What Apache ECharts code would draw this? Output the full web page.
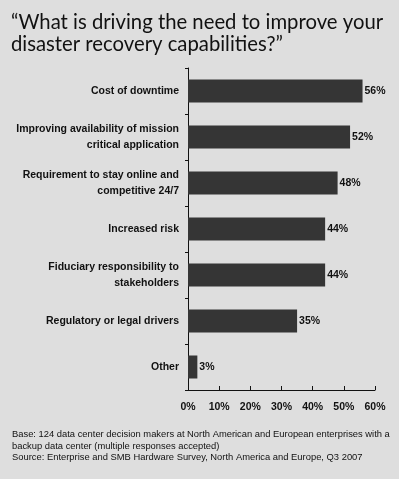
<!DOCTYPE html>
<html><head><meta charset="utf-8">
<script src="https://cdn.jsdelivr.net/npm/echarts@6/dist/echarts.min.js"></script>
<style>html,body{margin:0;padding:0;background:#dedede}#c{width:399px;height:479px}</style>
</head><body><div id="c"></div>
<script>
var categories = [
  "Cost of downtime",
  "Improving availability of mission\ncritical application",
  "Requirement to stay online and\ncompetitive 24/7",
  "Increased risk",
  "Fiduciary responsibility to\nstakeholders",
  "Regulatory or legal drivers",
  "Other"
];
var values = [56, 52, 48, 44, 44, 35, 3];
var titleText = "\u201CWhat is driving the need to improve your\ndisaster recovery capabilities?\u201D";
var noteText = "Base: 124 data center decision makers at North American and European enterprises with a\nbackup data center (multiple responses accepted)\nSource: Enterprise and SMB Hardware Survey, North America and Europe, Q3 2007";

var chart = echarts.init(document.getElementById('c'), null, {renderer:'canvas'});
chart.setOption({
  backgroundColor: '#dedede',
  animation: false,
  title: [{
    text: titleText, left: 6, top: 6,
    textStyle: {fontFamily: 'Lato', fontSize: 20.3, fontWeight: 'normal', color: '#111', lineHeight: 22}
  },{
    text: noteText, left: 7, top: 424,
    textStyle: {fontFamily: 'Liberation Sans', fontSize: 9.4, fontWeight: 'normal', color: '#111', lineHeight: 11.5}
  }],
  grid: {left: 188, right: 24, top: 68, bottom: 89, containLabel: false},
  xAxis: {
    type: 'value', min: 0, max: 60, interval: 10,
    axisLine: {show: true, lineStyle: {color: '#111', width: 1}},
    axisTick: {show: true, inside: true, length: 4, lineStyle: {color: '#111'}},
    splitLine: {show: false},
    axisLabel: {formatter: '{value}%', color: '#111', fontFamily: 'Liberation Sans', fontWeight: 'bold', fontSize: 10.5, margin: 12}
  },
  yAxis: {
    type: 'category', data: categories, inverse: true,
    axisLine: {show: true, lineStyle: {color: '#111', width: 1}},
    axisTick: {show: true, length: 3, lineStyle: {color: '#111'}},
    axisLabel: {color: '#111', fontFamily: 'Liberation Sans', fontWeight: 'bold', fontSize: 10.5, lineHeight: 16, margin: 9, align: 'right'}
  },
  series: [{
    type: 'bar', data: values, barWidth: 23,
    itemStyle: {color: '#353535'},
    label: {show: true, position: 'right', distance: 2, formatter: '{c}%', color: '#111', fontFamily: 'Liberation Sans', fontWeight: 'bold', fontSize: 10.5}
  }]
});
</script></body></html>
